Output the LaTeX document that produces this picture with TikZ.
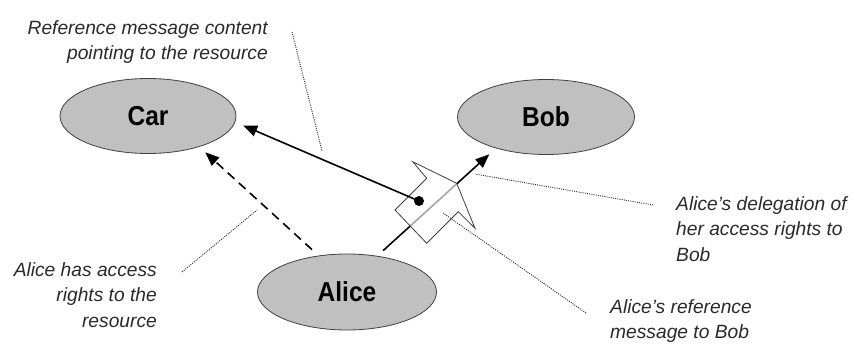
\documentclass[tikz,border=0pt]{standalone}
\usepackage{fontspec}
\usepackage{graphicx}
\usetikzlibrary{shapes.geometric, arrows.meta}
\setmainfont{Liberation Sans}
\definecolor{agentfill}{HTML}{C0C0C0}
\definecolor{agentline}{HTML}{404040}
\definecolor{notegray}{HTML}{2A2A2A}
\tikzstyle{agent} = [ellipse, draw=agentline, fill=agentfill, line width=0.8pt,
    inner sep=0pt, font=\fontsize{24.5}{28}\selectfont\bfseries]
\tikzstyle{note} = [inner sep=0pt, text=notegray,
    font=\fontsize{19.2}{25.5}\selectfont\itshape]
\tikzstyle{callout} = [draw=notegray, line width=0.9pt, dash pattern=on 1pt off 1.2pt]
\tikzstyle{msgarrow} = [line width=1.6pt, -{Triangle[length=14pt,width=11pt]}]
\newcommand{\tall}[1]{\scalebox{1}[1.12]{#1}}

\begin{document}
\begin{tikzpicture}[x=1pt, y=-1pt]
	\useasboundingbox (0,0) rectangle (853,347);

	% the three parties
	\node[agent, minimum width=176pt, minimum height=75pt] (car) at (148,116) {\tall{Car}};
	\node[agent, minimum width=177pt, minimum height=75pt] (bob) at (546,117) {\tall{Bob}};
	\node[agent, minimum width=179pt, minimum height=76pt] (alice) at (347,292) {\tall{Alice}};

	% message Alice -> Bob
	\draw[msgarrow, shorten <=7.8pt, shorten >=8.8pt] (alice.50) -- (bob.212);

	% envelope
	\filldraw[draw=agentline, line width=0.8pt, fill=white, fill opacity=0.65]
		(412.7,161.7) -- (426.7,178.3) -- (395,210) -- (426.7,243.3)
		-- (458.3,211.7) -- (475,228.3) -- (456.7,183.3) -- cycle;

	% reference carried by the message
	\node[circle, fill=black, inner sep=0pt, minimum size=10pt] (ref) at (419,201) {};
	\draw[msgarrow, shorten >=8.6pt] (ref.center) -- (car.-4);

	% Alice's own access
	\draw[msgarrow, dash pattern=on 9pt off 6pt, shorten <=8.9pt, shorten >=8pt]
		(alice.128) -- (car.-31);

	% notes
	\node[note, anchor=north east, align=right] (refnote) at (268,20)
		{Reference message content\\pointing to the resource};
	\node[note, anchor=north east, align=right] (accessnote) at (157,262)
		{Alice has access\\rights to the\\resource};
	\node[note, anchor=north west, align=left] (delegnote) at (676,196)
		{Alice’s delegation of\\her access rights to\\Bob};
	\node[note, anchor=north west, align=left] (refmsgnote) at (610,299)
		{Alice’s reference\\message to Bob};

	\coordinate (refnote-end) at (322,151);
	\coordinate (accessnote-end) at (257,210);
	\coordinate (delegnote-end) at (475,174);
	\coordinate (refmsgnote-end) at (443,213);

	\draw[callout] ([shift={(24pt,-12pt)}]refnote.north east) -- (refnote-end);
	\draw[callout] ([shift={(25pt,-10pt)}]accessnote.north east) -- (accessnote-end);
	\draw[callout] ([shift={(-23pt,-9pt)}]delegnote.north west) -- (delegnote-end);
	\draw[callout] ([shift={(-24pt,-14pt)}]refmsgnote.north west) -- (refmsgnote-end);
\end{tikzpicture}
\end{document}
